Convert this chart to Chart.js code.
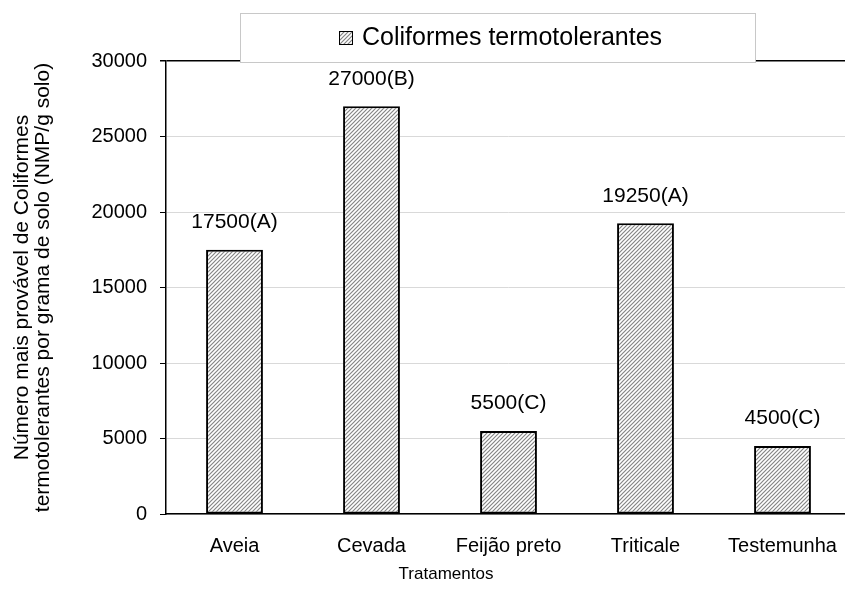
<!DOCTYPE html>
<html>
<head>
  <title>Coliformes termotolerantes</title>
  <script src="https://cdn.jsdelivr.net/npm/chart.js"></script>
  <style>
    html, body {
      margin: 0;
      padding: 0;
      background: white;
      overflow: hidden;
    }
    canvas {
      display: block;
    }
  </style>
</head>
<body>
  <canvas id="coliChart" width="880" height="610"></canvas>

  <script>
    const tratamentos = ["Aveia", "Cevada", "Feijão preto", "Triticale", "Testemunha"];
    const nmpValues = [17500, 27000, 5500, 19250, 4500];
    const letras = ["A", "B", "C", "A", "C"];
    const yTicks = [0, 5000, 10000, 15000, 20000, 25000, 30000];
    const serieLabel = "Coliformes termotolerantes";

    // diagonal hatch like the excel fill
    function makeHatch() {
      const c = document.createElement("canvas");
      c.width = 4;
      c.height = 4;
      const g = c.getContext("2d");
      g.fillStyle = "#fff";
      g.fillRect(0, 0, 4, 4);
      g.strokeStyle = "#858585";
      g.lineWidth = 1.2;
      g.beginPath();
      g.moveTo(-1, 5); g.lineTo(5, -1);
      g.moveTo(-1, 1); g.lineTo(1, -1);
      g.moveTo(3, 5); g.lineTo(5, 3);
      g.stroke();
      return g.createPattern(c, "repeat");
    }
    const hatch = makeHatch();

    const extras = {
      id: "extras",
      afterDatasetsDraw(chart) {
        const ctx = chart.ctx;
        const meta = chart.getDatasetMeta(0);
        ctx.save();
        ctx.fillStyle = "#000";
        ctx.font = "21px Arial, 'Liberation Sans'";
        ctx.textAlign = "center";
        ctx.textBaseline = "bottom";
        meta.data.forEach((bar, i) => {
          ctx.fillText(nmpValues[i] + "(" + letras[i] + ")", bar.x, bar.y - 17);
        });
        ctx.restore();
      },
      afterDraw(chart) {
        const ctx = chart.ctx;
        ctx.save();
        // legend box
        ctx.fillStyle = "#fff";
        ctx.fillRect(240, 13, 515, 49);
        ctx.strokeStyle = "#c8c8c8";
        ctx.lineWidth = 1;
        ctx.strokeRect(240.5, 13.5, 515, 49);
        ctx.fillStyle = hatch;
        ctx.fillRect(339, 31, 13, 13);
        ctx.strokeStyle = "#000";
        ctx.strokeRect(339.5, 31.5, 13, 13);
        ctx.fillStyle = "#000";
        ctx.font = "25px Arial, 'Liberation Sans'";
        ctx.textAlign = "left";
        ctx.textBaseline = "middle";
        ctx.fillText(serieLabel, 362, 38);
        // x title
        ctx.font = "17px Arial, 'Liberation Sans'";
        ctx.textAlign = "center";
        ctx.fillText("Tratamentos", 446, 574);
        ctx.restore();
      }
    };

    new Chart(document.getElementById("coliChart"), {
      type: "bar",
      data: {
        labels: tratamentos,
        datasets: [{
          label: serieLabel,
          data: nmpValues,
          backgroundColor: hatch,
          borderColor: "#000",
          borderWidth: 2,
          borderSkipped: false,
          barPercentage: 0.415,
          categoryPercentage: 1
        }]
      },
      options: {
        responsive: false,
        animation: false,
        layout: { padding: { top: 61, right: 29, left: 0, bottom: 0 } },
        plugins: {
          legend: { display: false },
          tooltip: { enabled: false }
        },
        scales: {
          x: {
            grid: { display: false },
            border: { color: "#000", width: 1.5 },
            ticks: {
              color: "#000",
              font: { family: "Arial, 'Liberation Sans'", size: 20 },
              padding: 12,
              maxRotation: 0
            },
            afterFit(scale) { scale.height = 96; }
          },
          y: {
            min: 0,
            max: 30000,
            afterBuildTicks(scale) {
              scale.ticks = yTicks.map(v => ({ value: v }));
            },
            grid: {
              color: ctx => ctx.tick && ctx.tick.value === 30000 ? "#000" : "#d9d9d9",
              lineWidth: ctx => ctx.tick && ctx.tick.value === 30000 ? 1.5 : 1,
              tickColor: "#000",
              tickLength: 6,
              drawTicks: true
            },
            border: { color: "#000", width: 1.5 },
            ticks: {
              color: "#000",
              font: { family: "Arial, 'Liberation Sans'", size: 20 },
              padding: 13,
              callback: v => String(v)
            },
            title: {
              display: true,
              text: ["Número mais provável de Coliformes", "termotolerantes por grama de solo (NMP/g solo)"],
              color: "#000",
              font: { family: "Arial, 'Liberation Sans'", size: 21, lineHeight: 1.0 },
              padding: { top: 12, bottom: 0 }
            },
            afterFit(scale) { scale.width = 166; }
          }
        }
      },
      plugins: [extras]
    });
  </script>
</body>
</html>
